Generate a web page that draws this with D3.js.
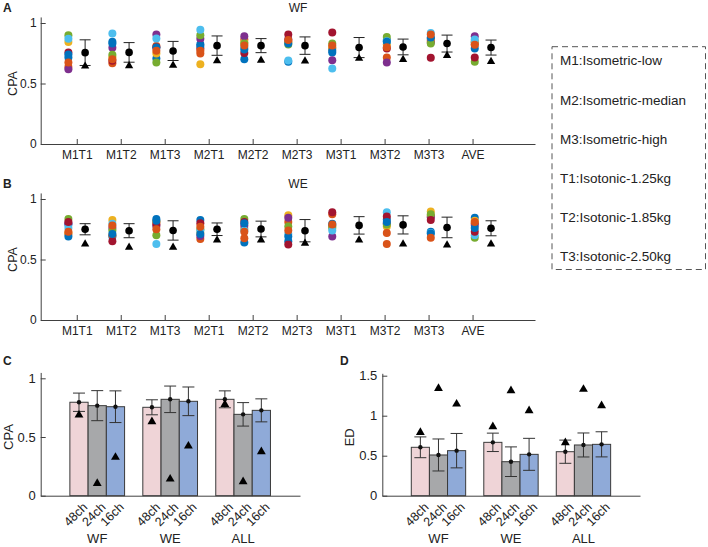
<!DOCTYPE html>
<html><head><meta charset="utf-8">
<script src="https://cdn.jsdelivr.net/npm/d3@7"></script>
<style>
body{margin:0;background:#fff}
text{font-family:"Liberation Sans",Arial,Helvetica,sans-serif;fill:#222}
</style>
</head><body>
<svg id="chart" width="708" height="547"></svg>
<script>
// ---------------- DATA ----------------
const conditions = ["M1T1","M1T2","M1T3","M2T1","M2T2","M2T3","M3T1","M3T2","M3T3","AVE"];
const subjectColors = ["#0072BD","#D95319","#EDB120","#7E2F8E","#77AC30","#4DBEEE","#A2142F","#0072BD","#D95319"];

// WF: per condition, one value per subject
const wfDots = [
  [.715,.637,.843,.618,.899,.870,.756,.740,.673],
  [.845,.667,.720,.796,.738,.914,.689,.830,.700],
  [.706,.810,.747,.904,.673,.871,.800,.797,.770],
  [.824,.747,.660,.870,.899,.945,.790,.810,.770],
  [.700,.863,.840,.890,.830,.797,.753,.780,.815],
  [.680,.850,.840,.866,.822,.690,.904,.830,.860],
  [.756,.790,.800,.692,.830,.624,.921,.770,.815],
  [.860,.715,.824,.673,.885,.850,.789,.845,.800],
  [.871,.860,.850,.838,.830,.918,.712,.880,.905],
  [.840,.822,.850,.890,.679,.863,.714,.790,.820]
];
const wfMean = [.755,.757,.769,.813,.813,.813,.797,.802,.830,.797];
const wfSd   = [.106,.081,.079,.080,.058,.072,.083,.065,.070,.062];
const wfTri  = [.643,.646,.651,.687,.692,.685,.707,.698,.731,.681];

// WE
const weDots = [
  [.790,.710,.720,.800,.835,.760,.810,.690,.730],
  [.690,.700,.827,.760,.740,.795,.650,.710,.780],
  [.835,.810,.812,.776,.700,.628,.790,.820,.750],
  [.827,.670,.720,.695,.750,.740,.800,.710,.770],
  [.640,.675,.757,.780,.835,.740,.810,.800,.730],
  [.650,.810,.865,.845,.772,.710,.625,.690,.740],
  [.780,.875,.770,.690,.760,.740,.890,.795,.790],
  [.830,.628,.772,.800,.790,.890,.855,.810,.720],
  [.730,.860,.896,.850,.875,.720,.827,.715,.680],
  [.845,.800,.820,.786,.680,.700,.730,.760,.810]
];
const weMean = [.750,.738,.740,.750,.752,.738,.782,.786,.765,.758];
const weSd   = [.046,.058,.080,.052,.065,.092,.072,.075,.085,.062];
const weTri  = [.628,.600,.600,.660,.660,.633,.660,.628,.620,.628];

// Bar panels
const groups = ["WF","WE","ALL"];
const channels = ["48ch","24ch","16ch"];
const channelColors = ["#EFD4D7","#A7A8AA","#8FAAD8"];
const cpaMean = [[.796,.767,.758],[.753,.821,.804],[.821,.693,.727]];
const cpaSd   = [[.078,.128,.135],[.064,.113,.122],[.072,.100,.098]];
const cpaTri  = [[.687,.105,.327],[.630,.142,.423],[.778,.120,.375]];
const edMean  = [[.605,.509,.563],[.667,.425,.517],[.550,.634,.642]];
const edSd    = [[.130,.200,.215],[.115,.185,.200],[.145,.150,.157]];
const edTri   = [[.792,1.342,1.146],[.863,1.313,1.063],[.663,1.330,1.125]];

const legendItems = ["M1:Isometric-low","M2:Isometric-median","M3:Isometric-high",
  "T1:Isotonic-1.25kg","T2:Isotonic-1.85kg","T3:Isotonic-2.50kg"];

// ---------------- LAYOUT ----------------
const dotShift  = [-.19,-.19,-.19,-.19,-.19,-.19,-.19,.05,.05,.05];
const meanShift = [.19,.19,.19,.19,.19,.19,.42,.42,.42,.42];

const svg = d3.select("#chart");
const AX = "#404040";

function styleAxis(g, fs){
  g.selectAll("path.domain").attr("stroke", AX).attr("stroke-width",1);
  g.selectAll(".tick line").attr("stroke", AX);
  g.selectAll(".tick text").attr("font-size", fs).attr("fill","#222")
    .attr("font-family","Liberation Sans, Arial, sans-serif");
}

function scatterPanel(o){
  const x = d3.scaleLinear().domain([0.18, 11.42]).range([40.7, 535]);
  const y = d3.scaleLinear().domain([0, 1.05]).range([o.y0, o.y0 - 1.05*121]);
  const g = svg.append("g");
  const ya = g.append("g").attr("transform",`translate(${x.range()[0]},0)`)
    .call(d3.axisLeft(y).tickValues([0,.5,1]).tickFormat(d=>String(d))
      .tickSizeInner(-5).tickSizeOuter(0).tickPadding(4));
  styleAxis(ya, 12);
  const xa = g.append("g").attr("transform",`translate(0,${o.y0})`)
    .call(d3.axisBottom(x).tickValues(d3.range(1,11)).tickFormat(i=>conditions[i-1])
      .tickSizeInner(-5).tickSizeOuter(0).tickPadding(6.5));
  styleAxis(xa, 12);
  for(let s=0;s<subjectColors.length;s++){
    g.append("g").selectAll("circle").data(o.dots).join("circle")
      .attr("cx",(d,i)=>x(i+1+dotShift[i]))
      .attr("cy",d=>y(d[s]))
      .attr("r",4)
      .attr("fill",subjectColors[s]);
  }
  const eb = g.append("g").attr("stroke","#222").attr("stroke-width",1);
  o.mean.forEach((m,i)=>{
    const cx = x(i+1+meanShift[i]);
    const lo = y(m-o.sd[i]), hi = y(m+o.sd[i]);
    eb.append("line").attr("x1",cx).attr("x2",cx).attr("y1",lo).attr("y2",hi);
    eb.append("line").attr("x1",cx-5.5).attr("x2",cx+5.5).attr("y1",lo).attr("y2",lo);
    eb.append("line").attr("x1",cx-5.5).attr("x2",cx+5.5).attr("y1",hi).attr("y2",hi);
  });
  g.append("g").selectAll("circle").data(o.mean).join("circle")
    .attr("cx",(d,i)=>x(i+1+meanShift[i])).attr("cy",d=>y(d)).attr("r",3.8).attr("fill","#000");
  g.append("g").selectAll("path").data(o.tri).join("path")
    .attr("d",d3.symbol(d3.symbolTriangle,30))
    .attr("transform",(d,i)=>`translate(${x(i+1+meanShift[i])},${y(d)})`)
    .attr("fill","#000");
  g.append("text").attr("x",298).attr("y",o.y0-1.05*121-5).attr("text-anchor","middle")
    .attr("font-size",12).text(o.title);
  g.append("text").attr("transform",`translate(17,${y(.5)}) rotate(-90)`)
    .attr("text-anchor","middle").attr("font-size",12.5).text("CPA");
  g.append("text").attr("x",3).attr("y",o.letterY).attr("font-size",12)
    .attr("font-weight","bold").attr("fill","#000").text(o.letter);
}

scatterPanel({y0:144, dots:wfDots, mean:wfMean, sd:wfSd, tri:wfTri, title:"WF", letter:"A", letterY:12});
scatterPanel({y0:320, dots:weDots, mean:weMean, sd:weSd, tri:weTri, title:"WE", letter:"B", letterY:188});

function barPanel(o){
  const x = d3.scaleLinear().domain([0.225, 3.78]).range(o.xr);
  const y = d3.scaleLinear().domain([0, o.ymax]).range([495.7, 495.7 - o.ymax*o.ppu]);
  const g = svg.append("g");
  const bw = 0.25;
  const flat = [];
  groups.forEach((gr,gi)=>channels.forEach((ch,ci)=>{
    flat.push({gi,ci,c:gi+1+(ci-1)*bw,m:o.mean[gi][ci],sd:o.sd[gi][ci],t:o.tri[gi][ci]});
  }));
  g.append("g").selectAll("rect").data(flat).join("rect")
    .attr("x",d=>x(d.c-bw/2)).attr("width",d=>x(d.c+bw/2)-x(d.c-bw/2))
    .attr("y",d=>y(d.m)).attr("height",d=>y(0)-y(d.m))
    .attr("fill",d=>channelColors[d.ci]).attr("stroke","#3a3a3a").attr("stroke-width",1);
  const ya = g.append("g").attr("transform",`translate(${o.xr[0]},0)`)
    .call(d3.axisLeft(y).tickValues(o.ticks).tickFormat(d=>String(d))
      .tickSizeInner(-5).tickSizeOuter(0).tickPadding(5));
  styleAxis(ya, 13);
  const xa = g.append("g").attr("transform",`translate(0,${y(0)})`)
    .call(d3.axisBottom(x).tickValues([]).tickSizeOuter(0));
  styleAxis(xa, 13);
  const eb = g.append("g").attr("stroke","#333").attr("stroke-width",1);
  flat.forEach(d=>{
    const cx = x(d.c), lo=y(d.m-d.sd), hi=y(d.m+d.sd);
    eb.append("line").attr("x1",cx).attr("x2",cx).attr("y1",lo).attr("y2",hi);
    eb.append("line").attr("x1",cx-6).attr("x2",cx+6).attr("y1",lo).attr("y2",lo);
    eb.append("line").attr("x1",cx-6).attr("x2",cx+6).attr("y1",hi).attr("y2",hi);
  });
  g.append("g").selectAll("circle").data(flat).join("circle")
    .attr("cx",d=>x(d.c)).attr("cy",d=>y(d.m)).attr("r",2.2).attr("fill","#111");
  g.append("g").selectAll("path").data(flat).join("path")
    .attr("d",d3.symbol(d3.symbolTriangle,34))
    .attr("transform",d=>`translate(${x(d.c)},${y(d.t)})`).attr("fill","#000");
  g.append("g").selectAll("text").data(flat).join("text")
    .attr("transform",d=>`translate(${x(d.c)+6},${y(0)+9}) rotate(-45)`)
    .attr("text-anchor","end").attr("dy","0.35em").attr("font-size",12.5)
    .text(d=>channels[d.ci]);
  g.append("g").selectAll("text").data(groups).join("text")
    .attr("x",(d,i)=>x(i+1)).attr("y",543).attr("text-anchor","middle")
    .attr("font-size",13).text(d=>d);
  g.append("text").attr("transform",`translate(${o.xr[0]-28},${y(o.labelAt)}) rotate(-90)`)
    .attr("text-anchor","middle").attr("font-size",13).text(o.ylabel);
  g.append("text").attr("x",o.letterX).attr("y",365).attr("font-size",12)
    .attr("font-weight","bold").attr("fill","#000").text(o.letter);
}

barPanel({xr:[40.7,300], ymax:1.05, ppu:117.4, ticks:[0,.5,1], mean:cpaMean, sd:cpaSd, tri:cpaTri,
  ylabel:"CPA", labelAt:.5, letter:"C", letterX:3});
barPanel({xr:[382.3,640], ymax:1.53, ppu:80, ticks:[0,.5,1,1.5], mean:edMean, sd:edSd, tri:edTri,
  ylabel:"ED", labelAt:.73, letter:"D", letterX:340});

const lg = svg.append("g");
lg.append("rect").attr("x",552).attr("y",46.7).attr("width",153.5).attr("height",222.8)
  .attr("fill","none").attr("stroke","#555").attr("stroke-width",1).attr("stroke-dasharray","6,4");
const ly = d3.scalePoint().domain(legendItems).range([60.7,256.7]);
lg.selectAll("text").data(legendItems).join("text")
  .attr("x",560).attr("y",d=>ly(d)).attr("dy","0.35em").attr("font-size",13.5).text(d=>d);
</script>
</body></html>
